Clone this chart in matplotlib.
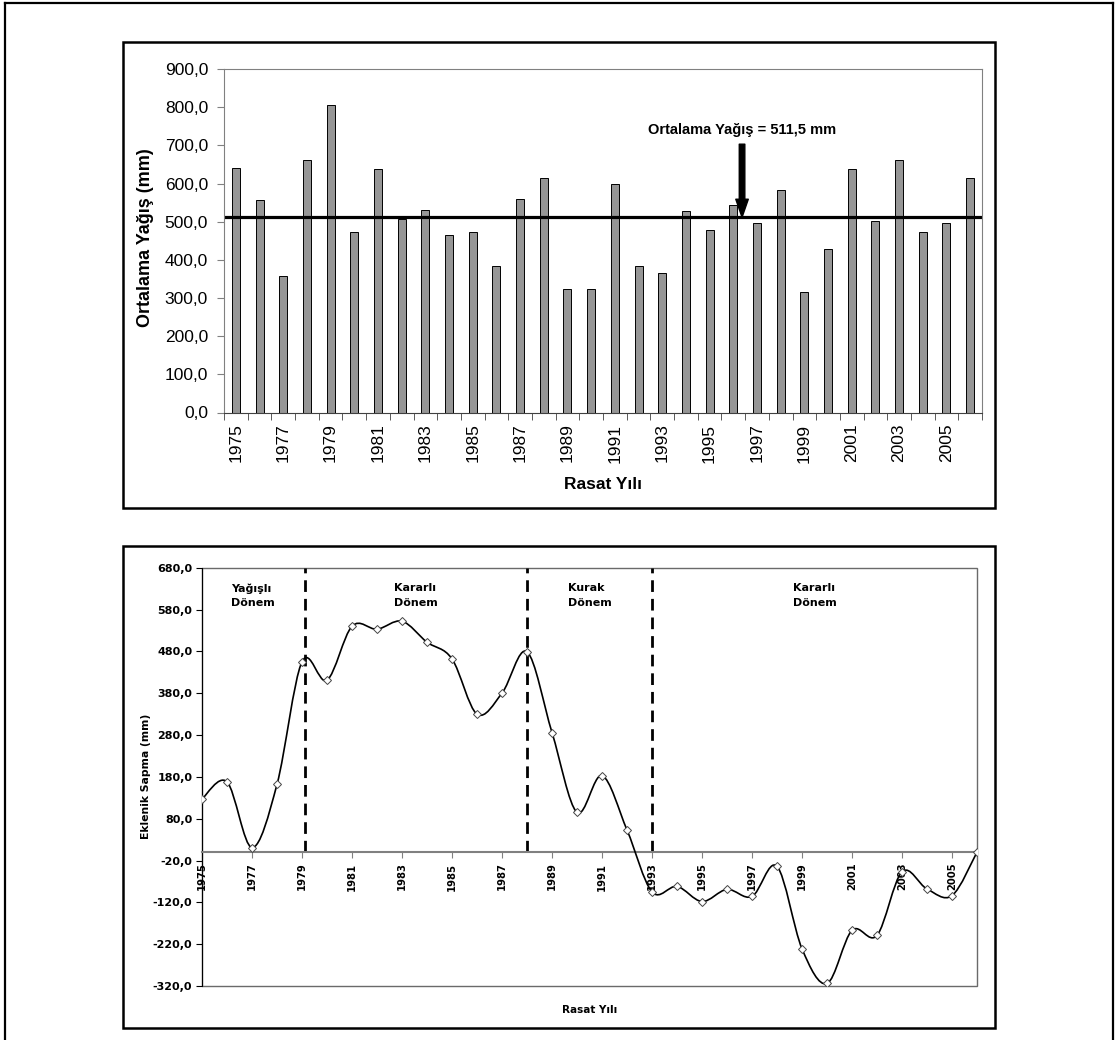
import numpy as np
import matplotlib
matplotlib.use("Agg")
import matplotlib.pyplot as plt
from matplotlib.patches import Rectangle, PathPatch
from matplotlib.lines import Line2D
from matplotlib.path import Path
from matplotlib.transforms import blended_transform_factory

plt.rcParams["font.family"] = ["Liberation Sans", "DejaVu Sans"]

# --- data -------------------------------------------------------------
years = list(range(1975, 2007))
rainfall = [640, 557, 358, 661, 806, 473, 637, 508, 531, 465, 473, 384,
            559, 614, 323, 323, 600, 385, 365, 527, 477, 543, 496, 583,
            317, 429, 637, 502, 661, 474, 496, 614]
mean_rain = 511.5
cum_dev = [127, 168, 11, 162, 455, 411, 540, 533, 552, 502, 462, 330,
           380, 479, 286, 95, 183, 53, -95, -82, -118, -89, -106, -34,
           -231, -314, -187, -199, -47, -88, -104, 0]
period_bounds = [1979.1, 1988, 1993]
period_labels = ["Yağışlı\nDönem", "Kararlı\nDönem", "Kurak\nDönem", "Kararlı\nDönem"]
top_yticks = np.arange(0, 901, 100)
bot_yticks = np.arange(-320, 681, 100)
label_years = years[::2]

W, H = 1115, 1040


def fx(px):
    return px / W


def fy(py):
    return 1 - py / H


def comma(v):
    return f"{v:.1f}".replace(".", ",")


def smooth_path(x, y):
    # cubic bezier through every point, spreadsheet-style smoothing
    n = len(x)
    verts = [(x[0], y[0])]
    codes = [Path.MOVETO]
    for i in range(n - 1):
        a = max(i - 1, 0)
        b = min(i + 2, n - 1)
        c1 = (x[i] + (x[i + 1] - x[a]) / 6, y[i] + (y[i + 1] - y[a]) / 6)
        c2 = (x[i + 1] - (x[b] - x[i]) / 6, y[i + 1] - (y[b] - y[i]) / 6)
        verts += [c1, c2, (x[i + 1], y[i + 1])]
        codes += [Path.CURVE4] * 3
    return Path(verts, codes)


fig = plt.figure(figsize=(W / 100, H / 100), dpi=100)

# page frame (open at the bottom) and the two chart boxes
for xs, ys in [([5, 5], [H, 3]), ([5, 1113], [3, 3]), ([1113, 1113], [3, H])]:
    fig.add_artist(Line2D([fx(v) for v in xs], [fy(v) for v in ys],
                          color="black", lw=1.6, transform=fig.transFigure))
for x0, y0, x1, y1 in [(123, 42, 995, 508), (123, 546, 995, 1028)]:
    fig.add_artist(Rectangle((fx(x0), fy(y1)), fx(x1) - fx(x0), fy(y0) - fy(y1),
                             fill=False, ec="black", lw=1.8,
                             transform=fig.transFigure))

# --- top panel: annual rainfall --------------------------------------
ax1 = fig.add_axes([fx(224), fy(412.5), fx(982) - fx(224), fy(69) - fy(412.5)])
ax1.bar(years, rainfall, width=0.34, color="#969696", edgecolor="black", lw=0.7)
ax1.axhline(mean_rain, color="black", lw=2.3)
ax1.set_xlim(years[0] - 0.5, years[-1] + 0.5)
ax1.set_ylim(top_yticks[0], top_yticks[-1])
ax1.set_yticks(top_yticks, [comma(v) for v in top_yticks])
ax1.set_xticks(label_years, [str(y) for y in label_years], rotation=90)
ax1.set_xticks(np.arange(years[0] - 0.5, years[-1] + 1), minor=True)
ax1.tick_params(axis="y", labelsize=12.5, length=5, color="#808080", pad=6.5)
ax1.tick_params(axis="x", which="major", labelsize=12.5, length=0, pad=8)
ax1.tick_params(axis="x", which="minor", length=5, color="#404040")
for side in ["top", "right", "left"]:
    ax1.spines[side].set_color("#808080")
ax1.spines["bottom"].set_color("#404040")
ax1.text(-0.104, 0.51, "Ortalama Yağış (mm)", transform=ax1.transAxes,
         rotation=90, ha="center", va="center", fontsize=13, fontweight="bold")
ax1.text(0.5, -0.211, "Rasat Yılı", transform=ax1.transAxes,
         ha="center", va="center", fontsize=12.5, fontweight="bold")

arrow_x = 1996.37
ax1.text(arrow_x, 740, "Ortalama Yağış = 511,5 mm", ha="center", va="center",
         fontsize=10.5, fontweight="bold")
ax1.annotate("", xy=(arrow_x, mean_rain), xytext=(arrow_x, 703),
             arrowprops=dict(arrowstyle="simple,head_length=0.65,head_width=0.45,tail_width=0.2",
                             mutation_scale=20, fc="black", ec="black",
                             shrinkA=0, shrinkB=0))

# --- bottom panel: cumulative deviation -------------------------------
ax2 = fig.add_axes([fx(202), fy(986), fx(977) - fx(202), fy(567.7) - fy(986)])
ax2.set_xlim(years[0], years[-1])
ax2.set_ylim(bot_yticks[0], bot_yticks[-1])
ax2.add_patch(PathPatch(smooth_path(years, cum_dev), fill=False,
                        ec="black", lw=1.2, zorder=3))
ax2.plot(years, cum_dev, ls="none", marker="D", ms=3.6, mfc="white",
         mec="#444444", mew=0.7, zorder=4)

ax2.vlines(period_bounds, 0, bot_yticks[-1], colors="black", lw=2.0,
           linestyles=(0, (4.2, 2.5)), zorder=2)
edges = [years[0]] + period_bounds + [years[-1]]
mix = blended_transform_factory(ax2.transData, ax2.transAxes)
for lbl, a, b in zip(period_labels, edges[:-1], edges[1:]):
    ax2.text((a + b) / 2, 0.933, lbl, transform=mix, ha="center", va="center",
             multialignment="left", linespacing=1.6,
             fontsize=8, fontweight="bold", family="DejaVu Sans")

for side in ["top", "right"]:
    ax2.spines[side].set_visible(False)
ax2.add_patch(Rectangle((0, 0), 1, 1, transform=ax2.transAxes, fill=False,
                        ec="#6a6a6a", lw=1.0, zorder=1, clip_on=False))
ax2.spines["left"].set_color("black")
ax2.spines["bottom"].set_position(("data", 0))
ax2.spines["bottom"].set_color("#808080")
ax2.spines["bottom"].set_linewidth(1.5)

ax2.set_yticks(bot_yticks, [comma(v) for v in bot_yticks])
ax2.set_xticks(label_years, [str(y) for y in label_years], rotation=90)
ax2.tick_params(axis="y", length=4, pad=3)
ax2.tick_params(axis="x", length=4, pad=3.5, color="#808080")
for t in ax2.get_yticklabels():
    t.set_fontproperties(dict(family="DejaVu Sans", weight="bold", size=8))
for t in ax2.get_xticklabels():
    t.set_fontproperties(dict(family="DejaVu Sans", weight="bold", size=7.2))
ax2.text(-0.072, 0.5, "Eklenik Sapma (mm)", transform=ax2.transAxes,
         rotation=90, ha="center", va="center", fontsize=7.8,
         fontweight="bold", family="DejaVu Sans")
ax2.text(0.5, -0.057, "Rasat Yılı", transform=ax2.transAxes, ha="center",
         va="center", fontsize=7.5, fontweight="bold", family="DejaVu Sans")

fig.savefig("out.png", dpi=100)
